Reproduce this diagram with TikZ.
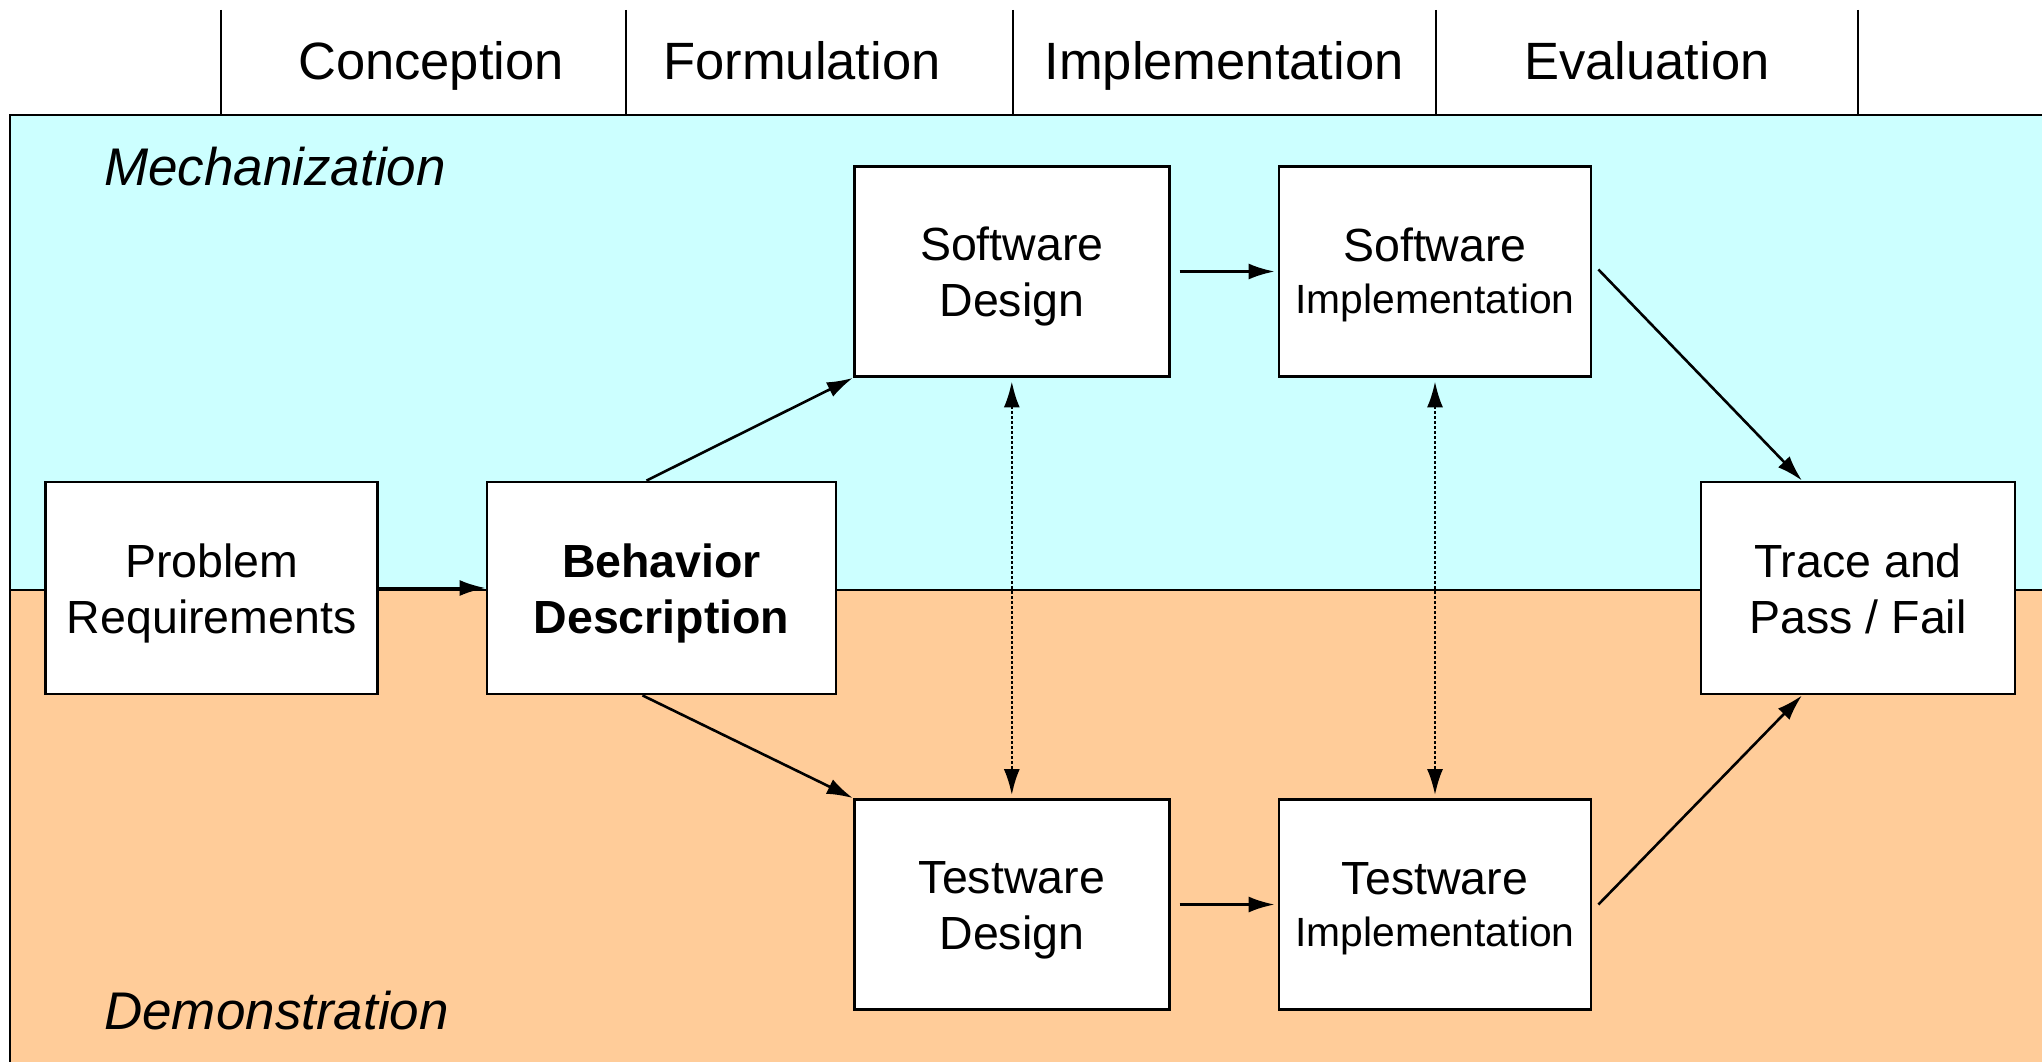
\documentclass[tikz,border=0pt]{standalone}
\usepackage{fontspec}
\setmainfont{Liberation Sans}
\usetikzlibrary{arrows.meta}
\definecolor{mechcyan}{RGB}{204,255,255}
\definecolor{demoorange}{RGB}{255,204,153}
\newcommand{\topstrut}[1]{\rule{0pt}{#1pt}}
\newcommand{\botstrut}[1]{\rule[-#1pt]{0pt}{#1pt}}
\begin{document}
\begin{tikzpicture}[x=1pt,y=-1pt,
  box/.style={draw=black,line width=2.8pt,fill=white,minimum width=#1,minimum height=210pt,inner sep=0pt,align=center,font=\fontsize{46.5}{56}\selectfont},
  box/.default=315pt,
  hdr/.style={font=\fontsize{52.5}{62}\selectfont,inner sep=0pt,anchor=base},
  lane/.style={font=\fontsize{53}{62}\selectfont\itshape,inner sep=0pt,anchor=west},
  arr/.style={line width=2.6pt,-{Latex[length=26pt,width=16pt]}},
  darr/.style={line width=2.5pt,dash pattern=on 2.5pt off 2.5pt,{Latex[length=26pt,width=16pt]}-{Latex[length=26pt,width=16pt]}},
  frame/.style={line width=2.8pt}]
\useasboundingbox (0,0) rectangle (2042,1062);
% backgrounds
\fill[mechcyan] (10,115) rectangle (2050,590);
\fill[demoorange] (10,590) rectangle (2050,1070);
\draw[frame] (10,1070) -- (10,115) -- (2050,115);
\draw[frame] (10,590) -- (2050,590);
% header
\foreach \x in {221,626,1013,1436,1858} \draw[frame] (\x,10) -- (\x,115);
\node[hdr] (hc) at (431,80) {Conception};
\node[hdr] (hf) at (802,80) {Formulation};
\node[hdr] (hi) at (1224,80) {Implementation};
\node[hdr] (he) at (1647,80) {Evaluation};
% lanes
\node[lane] (mech) at (104,167) {Mechanization};
\node[lane] (demo) at (104,1011) {Demonstration};
% boxes
\node[box=332pt,minimum height=212pt] (pr) at (211.6,588) {\topstrut{46}Problem\\Requirements\botstrut{12}};
\node[box=349pt,minimum height=212pt,font=\fontsize{46.5}{56}\selectfont\bfseries] (bd) at (661.5,588) {\topstrut{46}Behavior\\Description\botstrut{12}};
\node[box] (sd) at (1011.8,271.5) {\topstrut{46}Software\\Design\botstrut{12}};
\node[box=312pt] (si) at (1435,271.5) {\topstrut{44}Software\\[-4pt]{\fontsize{40.8}{49}\selectfont Implementation}\botstrut{12}};
\node[box] (td) at (1011.8,904.5) {\topstrut{46}Testware\\Design\botstrut{12}};
\node[box=312pt] (ti) at (1435,904.5) {\topstrut{44}Testware\\[-4pt]{\fontsize{40.8}{49}\selectfont Implementation}\botstrut{12}};
\node[box=314pt,minimum height=212pt] (tpf) at (1858,588) {\topstrut{46}Trace and\\Pass / Fail\botstrut{12}};
% arrows
\draw[arr] (pr.east) -- (bd.west);
\draw[arr] ([xshift=-15pt]bd.north) -- (sd.south west);
\draw[arr] ([xshift=-19pt]bd.south) -- (td.north west);
\draw[arr,shorten <=9pt,shorten >=3pt] (sd.east) -- (si.west);
\draw[arr,shorten <=9pt,shorten >=3pt] (td.east) -- (ti.west);
\draw[arr] ([xshift=6pt,yshift=2pt]si.east) -- ([xshift=-56pt]tpf.north);
\draw[arr] ([xshift=6pt]ti.east) -- ([xshift=-56pt]tpf.south);
\draw[darr,shorten <=3.5pt,shorten >=3pt] (sd.south) -- (td.north);
\draw[darr,shorten <=3.5pt,shorten >=3pt] (si.south) -- (ti.north);
\end{tikzpicture}
\end{document}
